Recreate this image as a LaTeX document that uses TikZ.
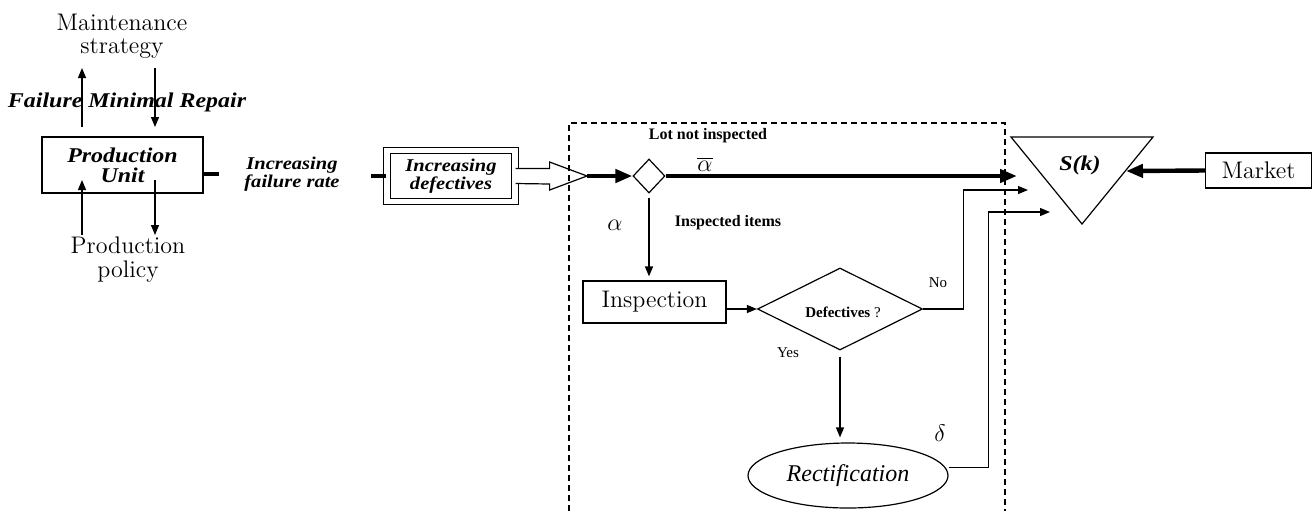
\documentclass[tikz,border=0pt]{standalone}
\usepackage{fontspec}
\newfontfamily\tms{Liberation Serif}
\newfontfamily\tmsw[FakeStretch=1.14]{Liberation Serif}
\usetikzlibrary{positioning,calc,arrows.meta,shapes.geometric}

\begin{document}
\begin{tikzpicture}[x=0.5pt,y=-0.5pt,
    box/.style={rectangle,draw,line width=0.6pt,inner sep=0pt},
    lbl/.style={font=\fontsize{12}{11.5}\selectfont,align=center,inner sep=0pt},
    bilbl/.style={font=\tmsw\bfseries\itshape\fontsize{10.5}{10}\selectfont,align=center,inner sep=0pt},
    bismall/.style={font=\tmsw\bfseries\itshape\fontsize{9}{9}\selectfont,align=center,inner sep=0pt},
    bsmall/.style={font=\tms\bfseries\fontsize{8}{9}\selectfont,inner sep=0pt},
    rsmall/.style={font=\tms\fontsize{7.5}{8}\selectfont,inner sep=0pt},
    greek/.style={font=\fontsize{12}{12}\selectfont,inner sep=0pt},
    thinarrow/.style={line width=0.6pt,-{Triangle[length=5pt,width=4pt]}},
    thickline/.style={line width=2.2pt},
    thickarrow/.style={line width=2.2pt,-{Triangle[length=8.5pt,width=6.5pt]}}]

\useasboundingbox (0,0) rectangle (1312,511);

% Production unit and its inputs
\node[lbl] (maint) at (122,36) {Maintenance\\strategy};
\node[bilbl] (fmr) at (127,102) {Failure Minimal Repair};
\node[box,minimum width=80.5pt,minimum height=28pt,bilbl] (unit) at (122.5,165) {Production\\Unit};
\node[lbl,font=\fontsize{12}{12}\selectfont] (policy) at (128,260) {Production\\policy};
\coordinate (mu0) at (82,127); \coordinate (mu1) at (82,68);
\coordinate (md0) at (155,68); \coordinate (md1) at (155,127);
\coordinate (pu0) at (82,235); \coordinate (pu1) at (82,180);
\coordinate (pd0) at (155,180); \coordinate (pd1) at (155,235);
\draw[thinarrow] (mu0) -- (mu1);
\draw[thinarrow] (md0) -- (md1);
\draw[thinarrow] (pu0) -- (pu1);
\draw[thinarrow] (pd0) -- (pd1);

% Flow to the lot
\node[bismall] (rate) at (292,174) {Increasing\\failure rate};
\node[box,draw,double,double distance=2.6pt,minimum width=64pt,minimum height=25.5pt,
      bismall] (defect) at (451,176) {Increasing\\defectives};
\draw[thickline] (unit.east |- rate) -- ++(15,0);
\draw[thickline] (defect.west) -- ++(-15,0);
\coordinate (htip) at (587,176);
\draw[line width=0.6pt,fill=white] ([yshift=3.75pt]defect.east) -- ++(34,0) -- ++(0,-6.5)
    -- (htip) -- ([xshift=17pt,yshift=-7pt]defect.east) -- ++(0,-6) -- ([yshift=-3.75pt]defect.east);

% Inspection area
\draw[dashed,dash pattern=on 3pt off 2pt,line width=0.6pt] (569,511) -- (569,123) -- (1005,123) -- (1005,511);
\node[diamond,draw,line width=0.6pt,minimum width=16pt,minimum height=17pt,inner sep=0pt] (split) at (649,176) {};
\draw[thickarrow] (htip) -- (split.west);
\node[bsmall] (lot) at (708,136) {Lot not inspected};
\node[greek] (abar) at (705,164) {$\overline{\alpha}$};
\node[greek] (alpha) at (615,225) {$\alpha$};
\node[bsmall] (items) at (728,223) {Inspected items};

\node[box,minimum width=71.5pt,minimum height=21pt,lbl] (insp) at (654.5,302) {Inspection};
\draw[thinarrow,line width=0.8pt,shorten <=2pt,shorten >=2pt] (split.south) -- (split.south |- insp.north);
\node[diamond,draw,line width=0.6pt,minimum width=82.5pt,minimum height=41pt,inner sep=0pt,
      rsmall] (check) at (840,309) {};
\node[rsmall] (checktxt) at (843,312) {\bfseries Defectives\mdseries\ ?};
\draw[thinarrow] (insp.east |- check.west) -- (check.west);
\node[rsmall] (no) at (938,283) {No};
\node[rsmall] (yes) at (788,353) {Yes};

\node[ellipse,draw,line width=0.6pt,minimum width=100pt,minimum height=32.5pt,inner sep=0pt,
      font=\tms\itshape\fontsize{12}{12}\selectfont] (rect) at (848,475.5) {Rectification};
\draw[thinarrow,shorten <=3pt,shorten >=2.5pt] (check.south) -- (check.south |- rect.north);
\node[greek] (delta) at (940,433) {$\delta$};

% Stock S(k)
\coordinate (tl) at (1011,137); \coordinate (tr) at (1153,137); \coordinate (tb) at (1082,224);
\draw[line width=0.6pt] (tl) -- (tr) -- (tb) -- cycle;
\node[font=\tmsw\bfseries\itshape\fontsize{10.5}{10}\selectfont,inner sep=0pt] (sk) at (1080,165) {S(k)};
\coordinate (sktip) at (1017,176);
\coordinate (notip) at (1028,190);
\coordinate (dtip) at (1050,212);
\coordinate (mtip) at (1126,171);
\draw[thickarrow] (split.east) -- (sktip);
\draw[thinarrow] (check.east) -- ++(40,0) |- (notip);
\draw[thinarrow] ([yshift=4pt]rect.east) -- ++(40,0) |- (dtip);

\node[box,minimum width=53pt,minimum height=17.5pt,lbl] (market) at (1258.5,170.5) {Market};
\draw[thickarrow] (market.west) -- (mtip);

\end{tikzpicture}
\end{document}
